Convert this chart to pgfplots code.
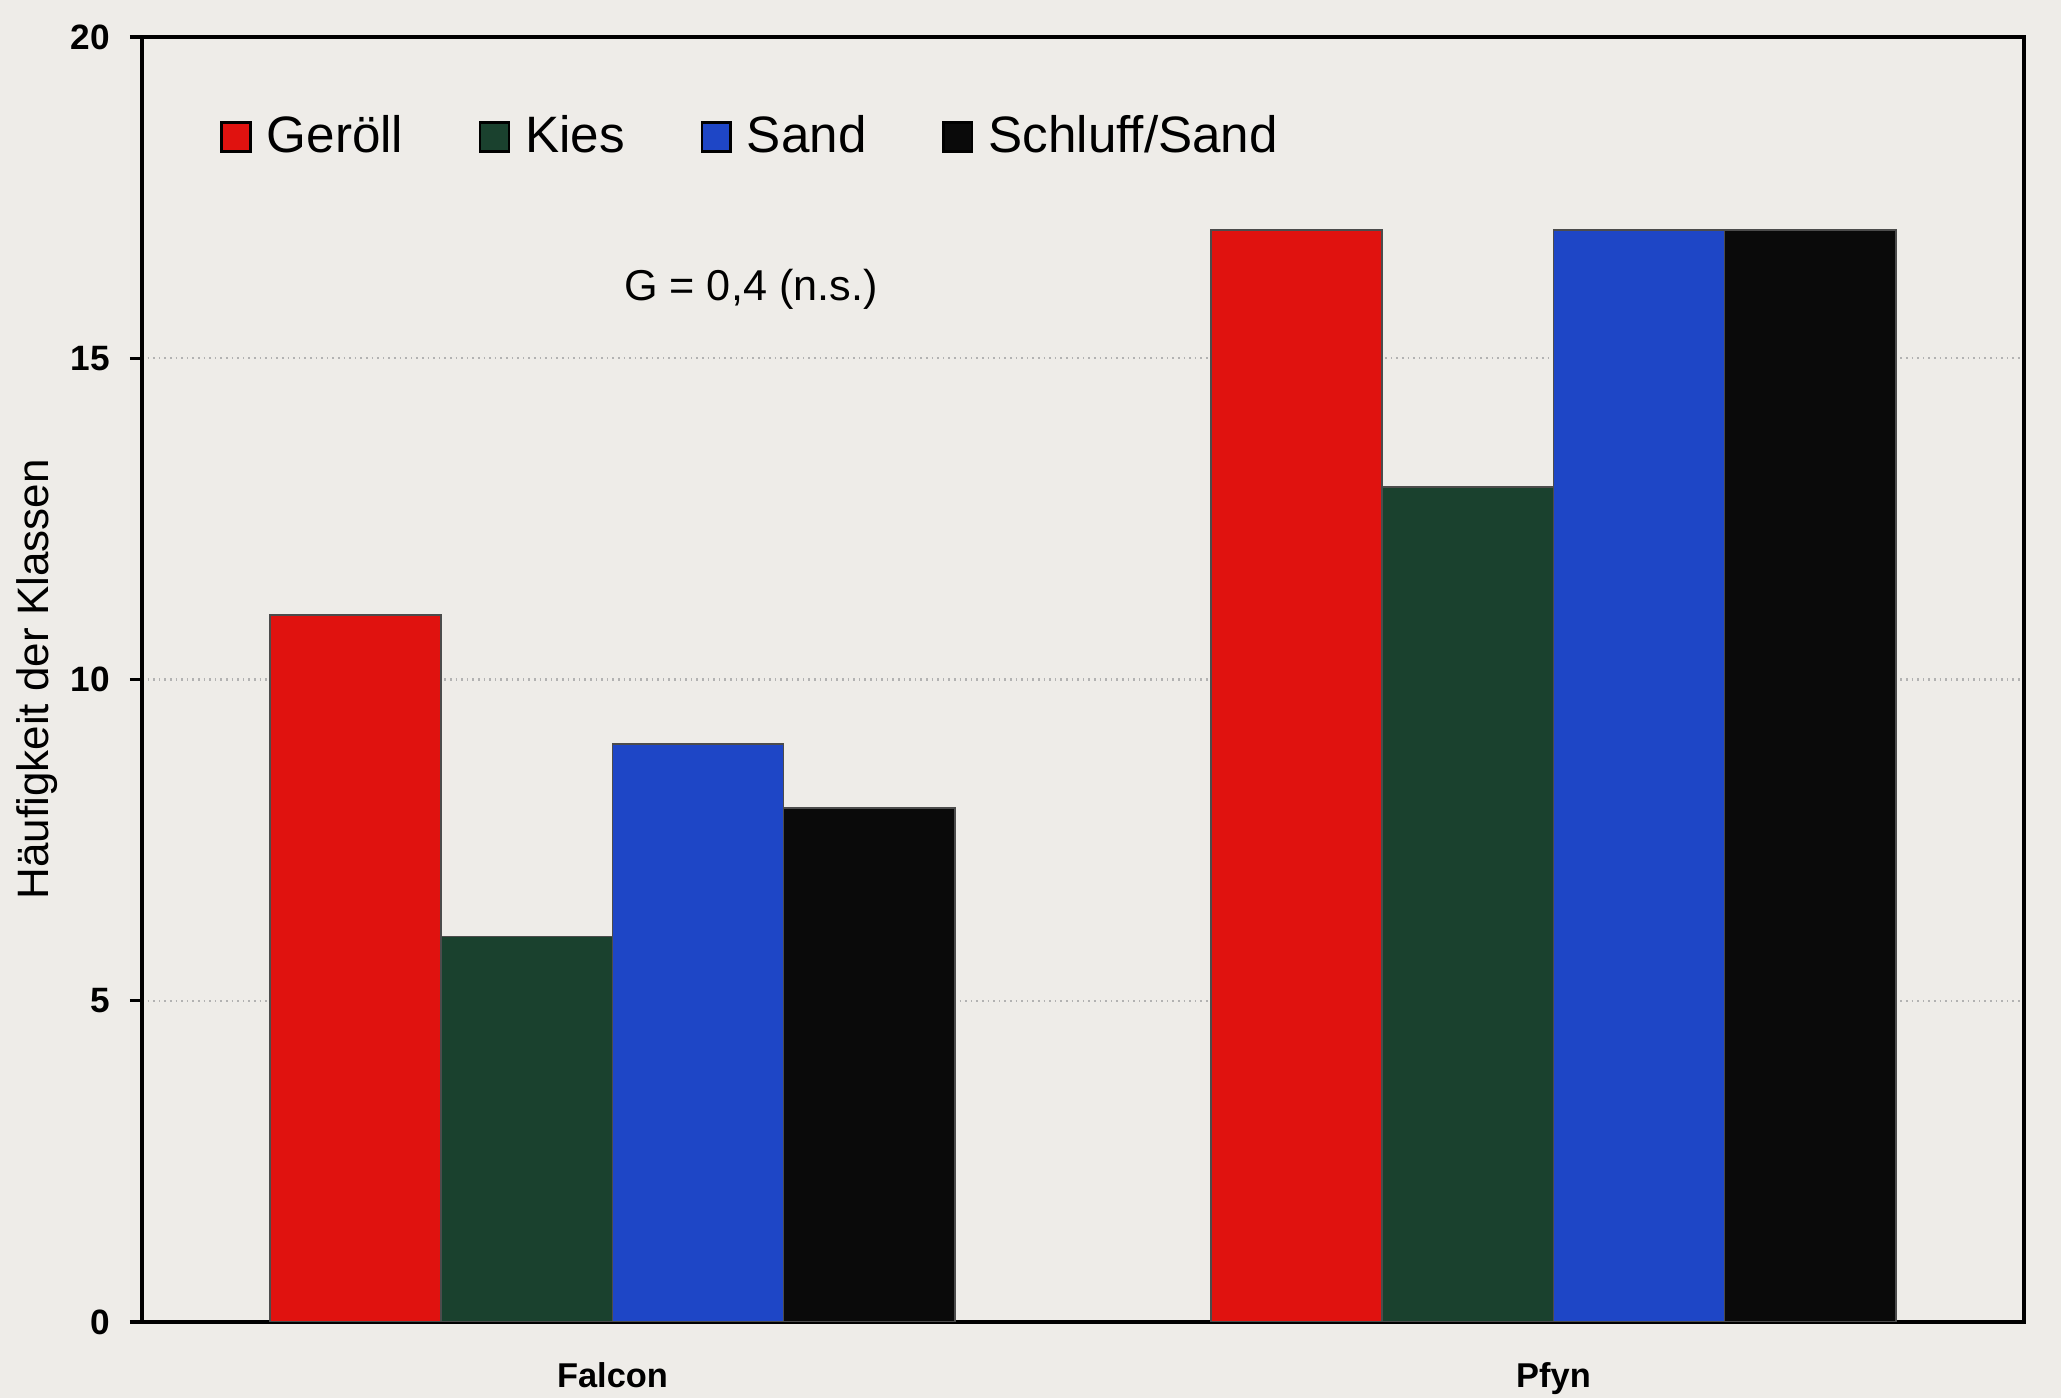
\documentclass[border=0pt]{standalone}
\usepackage{pgfplots}
\pgfplotsset{compat=1.18}
\usepackage{fontspec}
\setmainfont{Liberation Sans}
\setsansfont{Liberation Sans}
\definecolor{bgc}{HTML}{EEECE8}
\definecolor{cred}{HTML}{E0120F}
\definecolor{cgreen}{HTML}{1A412E}
\definecolor{cblue}{HTML}{1E46C6}
\definecolor{cblack}{HTML}{0A0A0A}
\begin{document}
\begin{tikzpicture}
\fill[bgc] (-35.5pt,-19pt) rectangle (479.75pt,330.5pt);
\begin{axis}[
  scale only axis,
  width=470.5pt, height=321.25pt,
  xmin=-0.5, xmax=1.5, ymin=0, ymax=20,
  ybar=0pt, bar width=42.8pt,
  xtick=data, xticklabels={Falcon,Pfyn},
  ytick={0,5,10,15,20},
  axis background/.style={fill=bgc},
  axis line style={line width=0.8pt},
  tick align=outside,
  y tick style={line width=0.8pt, black},
  major tick length=3pt,
  x tick style={draw=none},
  xtick pos=bottom, ytick pos=left,
  ymajorgrids,
  grid style={densely dotted, gray!60, line width=0.6pt},
  /pgf/number format/assume math mode=true,
  y tick label style={font=\bfseries\fontsize{8.8}{10}\selectfont, xshift=-1.5pt},
  x tick label style={font=\bfseries\fontsize{8.6}{10}\selectfont, yshift=-3.7pt},
  every axis y label/.style={at={(axis description cs:-0.0558,0.5)}, rotate=90, anchor=center},
  ylabel={\fontsize{11}{13}\selectfont Häufigkeit der Klassen},
  legend columns=4,
  legend style={draw=none, fill=none, inner sep=0pt,
    at={(axis description cs:0,1)}, anchor=west, xshift=19.4pt, yshift=-25pt,
    font=\fontsize{12.8}{14}\selectfont,
    /tikz/every odd column/.append style={column sep=1.8pt},
    /tikz/every even column/.append style={column sep=16.9pt}},
  legend image code/.code={\draw[#1,draw=black,line width=0.6pt] (0pt,-3.6pt) rectangle (7.2pt,3.6pt);},
]
\addplot[fill=cred, draw=black!70, line width=0.4pt] coordinates {(0,11) (1,17)};
\addplot[fill=cgreen, draw=black!70, line width=0.4pt] coordinates {(0,6) (1,13)};
\addplot[fill=cblue, draw=black!70, line width=0.4pt] coordinates {(0,9) (1,17)};
\addplot[fill=cblack, draw=black!70, line width=0.4pt] coordinates {(0,8) (1,17)};
\legend{Geröll, Kies, Sand, Schluff/Sand}
\node[font=\fontsize{10.8}{12}\selectfont] at (axis cs:0.147,16.08) {G = 0,4 (n.s.)};
\end{axis}
\pgfresetboundingbox
\useasboundingbox (-35.5pt,-19pt) rectangle (479.75pt,330.5pt);
\end{tikzpicture}
\end{document}
